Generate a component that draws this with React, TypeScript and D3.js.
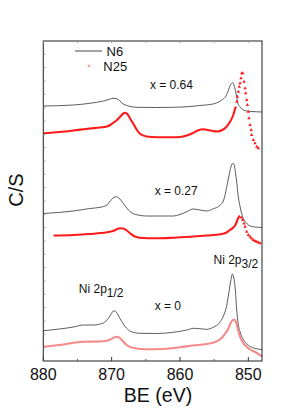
import { useEffect, useRef } from "react";
import * as d3 from "d3";

// binding energy (eV), intensity (arb. C/S) pairs
const n6_064: [number, number][] = [
  [880, 25.5], [875.6, 25.6], [873.2, 25.77], [871.2, 26.0], [870.2, 26.2], [869.8, 26.27],
  [869.3, 26.25], [868.3, 25.7], [867.3, 25.45], [866.3, 25.37], [863.4, 25.35], [861.0, 25.37],
  [858.5, 25.45], [857.1, 25.55], [855.2, 25.7], [854.1, 26.0], [853.2, 26.6], [853.0, 26.9],
  [852.7, 27.5], [852.4, 27.8], [852.3, 27.85], [852.1, 27.6], [851.7, 26.4], [851.5, 25.7],
  [851.2, 25.4], [850.7, 25.1], [850.2, 25.0], [849.5, 24.95], [848.0, 24.9],
];
const n25_064: [number, number][] = [
  [880, 22.77], [877.6, 22.9], [875.6, 23.05], [873.2, 23.25], [871.7, 23.35], [870.7, 23.45],
  [870.2, 23.6], [869.8, 23.8], [869.3, 24.05], [868.8, 24.4], [868.3, 24.75], [868.0, 24.83],
  [867.7, 24.7], [867.3, 24.25], [866.8, 23.7], [866.3, 23.1], [865.9, 22.75], [864.9, 22.45],
  [863.4, 22.37], [861.0, 22.37], [860.0, 22.4], [859.0, 22.55], [858.1, 22.8], [857.4, 23.05],
  [856.6, 23.17], [855.9, 23.1], [855.2, 23.0], [854.6, 22.95], [853.8, 23.1], [853.2, 23.43],
  [852.7, 23.9], [852.2, 24.6], [851.9, 25.3], [851.8, 25.43],
];
const n25_064Dots: [number, number][] = [
  [851.7, 25.93], [851.6, 26.43], [851.46, 26.93], [851.32, 27.43], [851.21, 27.77], [851.07, 28.27],
  [850.96, 28.77], [850.82, 28.77], [850.63, 27.93], [850.48, 27.27], [850.38, 26.77], [850.23, 26.1],
  [850.14, 25.6], [850.0, 24.93], [849.9, 24.27], [849.75, 23.6], [849.6, 23.1], [849.52, 22.6],
  [849.27, 22.1], [849.02, 21.77], [848.77, 21.43], [848.54, 21.27],
];
const n6_027: [number, number][] = [
  [880, 14.75], [875.6, 15.0], [873.2, 15.25], [871.7, 15.37], [870.7, 15.6], [870.2, 16.0],
  [869.8, 16.3], [869.3, 16.43], [868.8, 16.2], [868.3, 15.77], [867.8, 15.3], [867.3, 14.93],
  [866.3, 14.62], [864.9, 14.5], [861.0, 14.5], [860.0, 14.65], [859.0, 14.93], [858.1, 15.2],
  [857.1, 15.1], [856.1, 15.0], [855.2, 15.2], [854.1, 15.6], [853.6, 16.1], [853.2, 17.27],
  [852.9, 18.3], [852.6, 19.27], [852.3, 19.75], [852.1, 19.7], [851.9, 18.9], [851.7, 17.9],
  [851.5, 16.6], [851.2, 15.4], [850.7, 14.2], [850.2, 13.75], [849.75, 13.5], [849.0, 13.4],
  [848.0, 13.35],
];
const n25_027: [number, number][] = [
  [878.5, 12.55], [875.6, 12.6], [873.2, 12.7], [870.7, 12.87], [869.8, 13.0], [869.3, 13.15],
  [868.8, 13.27], [868.3, 13.25], [867.8, 13.05], [867.3, 12.77], [866.6, 12.45], [865.9, 12.33],
  [863.4, 12.27], [861.0, 12.33], [858.5, 12.43], [856.1, 12.55], [854.1, 12.67], [853.2, 12.85],
  [852.7, 13.1], [852.2, 13.35], [851.9, 13.6], [851.6, 14.1], [851.4, 14.4], [851.2, 14.5],
];
const n25_027Dots: [number, number][] = [
  [851.03, 14.35], [850.82, 14.1], [850.63, 13.75], [850.48, 13.43], [850.23, 12.93], [850.0, 12.6],
  [849.75, 12.43], [849.52, 12.25], [849.27, 12.1], [849.02, 12.0], [848.77, 11.93], [848.54, 11.85],
  [848.29, 11.77],
];
const n6_0: [number, number][] = [
  [880, 3.03], [877.6, 3.2], [875.6, 3.4], [874.1, 3.6], [872.7, 3.6], [871.2, 3.8], [870.7, 4.1],
  [870.2, 4.55], [869.9, 4.9], [869.65, 5.03], [869.4, 4.95], [869.1, 4.65], [868.8, 4.27],
  [868.3, 3.7], [867.8, 3.27], [867.2, 2.95], [865.85, 2.77], [863.4, 2.75], [861.0, 2.87],
  [859.0, 3.1], [858.05, 3.27], [857.1, 3.23], [856.1, 3.17], [855.2, 3.35], [854.1, 3.93],
  [853.65, 4.5], [853.2, 5.43], [852.9, 6.6], [852.6, 7.9], [852.34, 8.7], [852.2, 8.5],
  [851.9, 7.1], [851.7, 5.1], [851.5, 3.8], [851.2, 2.9], [850.7, 2.1], [850.2, 1.7],
  [849.75, 1.45], [849.0, 1.25], [848.0, 1.15],
];
const n25_0: [number, number][] = [
  [880, 1.43], [877.6, 1.6], [874.1, 1.93], [871.7, 1.95], [870.7, 2.03], [870.2, 2.15],
  [869.65, 2.35], [869.2, 2.43], [868.8, 2.3], [868.3, 1.95], [867.8, 1.6], [866.8, 1.3],
  [864.9, 1.17], [862.4, 1.2], [860.0, 1.37], [858.05, 1.55], [856.1, 1.7], [855.2, 1.83],
  [854.1, 2.17], [853.6, 2.55], [852.9, 3.27], [852.5, 3.9], [852.1, 4.15], [851.8, 3.9],
  [851.5, 3.1], [851.2, 2.4], [850.7, 1.77], [850.2, 1.4], [849.75, 1.15], [849.0, 0.9],
  [848.0, 0.45],
];

const xTicks = [880, 870, 860, 850];
const xMinor = [875, 865, 855];
const labels = [
  { text: "x = 0.64", be: 864.4, v: 27.2 },
  { text: "x = 0.27", be: 863.7, v: 16.6 },
  { text: "x = 0", be: 863.7, v: 5.1 },
];

export default function App() {
  const svgRef = useRef<SVGSVGElement>(null);
  const width = 291;
  const height = 411;

  useEffect(() => {
    const margin = { top: 41, right: 29, bottom: 50, left: 43.3 };
    const x = d3
      .scaleLinear()
      .domain([880, 848])
      .range([margin.left, width - margin.right]);
    const y = d3
      .scaleLinear()
      .domain([0, 32])
      .range([height - margin.bottom, margin.top]);

    const svg = d3.select(svgRef.current);
    svg.selectAll("*").remove();
    const font = "Liberation Sans, Arial, Helvetica, sans-serif";

    const line = d3
      .line<[number, number]>()
      .x((d) => x(d[0]))
      .y((d) => y(d[1]))
      .curve(d3.curveMonotoneX);

    const plot = svg.append("g");

    // thin grey N6 traces
    [n6_064, n6_027, n6_0].forEach((s) => {
      plot
        .append("path")
        .datum(s)
        .attr("fill", "none")
        .attr("stroke", "#4a4a4a")
        .attr("stroke-width", 0.9)
        .attr("d", line);
    });

    // red N25 traces (dense markers -> thick line)
    [
      { s: n25_064, c: "#ff1a1a" },
      { s: n25_027, c: "#ff1a1a" },
      { s: n25_0, c: "#f58a8a" },
    ].forEach(({ s, c }) => {
      plot
        .append("path")
        .datum(s)
        .attr("fill", "none")
        .attr("stroke", c)
        .attr("stroke-width", 2.1)
        .attr("d", line);
    });

    const tri = d3.symbol().type(d3.symbolTriangle).size(5);
    [n25_064Dots, n25_027Dots].forEach((s) => {
      plot
        .selectAll(null)
        .data(s)
        .join("path")
        .attr("d", tri)
        .attr("fill", "#ff1a1a")
        .attr("transform", (d) => `translate(${x(d[0])},${y(d[1])})`);
    });

    // frame
    const [x0, x1] = x.range();
    const [yb, yt] = y.range();
    svg
      .append("rect")
      .attr("x", x0)
      .attr("y", yt)
      .attr("width", x1 - x0)
      .attr("height", yb - yt)
      .attr("fill", "none")
      .attr("stroke", "#333")
      .attr("stroke-width", 1.1);

    // bottom ticks (inward)
    xTicks.forEach((t) => {
      svg
        .append("line")
        .attr("x1", x(t))
        .attr("x2", x(t))
        .attr("y1", yb)
        .attr("y2", yb - 4)
        .attr("stroke", "#333");
      svg
        .append("text")
        .attr("x", x(t))
        .attr("y", yb + 19)
        .attr("text-anchor", "middle")
        .attr("font-family", font)
        .attr("font-size", 16)
        .attr("fill", "#111")
        .text(t);
    });
    xMinor.forEach((t) => {
      svg
        .append("line")
        .attr("x1", x(t))
        .attr("x2", x(t))
        .attr("y1", yb)
        .attr("y2", yb - 2)
        .attr("stroke", "#555");
    });
    // faint top ticks
    [...xTicks, ...xMinor].forEach((t) => {
      svg
        .append("line")
        .attr("x1", x(t))
        .attr("x2", x(t))
        .attr("y1", yt)
        .attr("y2", yt + 2)
        .attr("stroke", "#999");
    });
    // faint left ticks
    d3.range(0, 32, 4 / 3).forEach((t) => {
      svg
        .append("line")
        .attr("x1", x0)
        .attr("x2", x0 + 2)
        .attr("y1", y(t))
        .attr("y2", y(t))
        .attr("stroke", "#888");
    });

    // axis titles
    svg
      .append("text")
      .attr("x", 158)
      .attr("y", 401.5)
      .attr("text-anchor", "middle")
      .attr("font-family", font)
      .attr("font-size", 19.5)
      .attr("fill", "#111")
      .text("BE (eV)");
    svg
      .append("text")
      .attr("transform", "translate(23,190) rotate(-90)")
      .attr("text-anchor", "middle")
      .attr("font-family", font)
      .attr("font-size", 20)
      .attr("fill", "#111")
      .text("C/S");

    // series labels
    labels.forEach((l) => {
      svg
        .append("text")
        .attr("x", x(l.be))
        .attr("y", y(l.v))
        .attr("font-family", font)
        .attr("font-size", 12)
        .attr("fill", "#111")
        .text(l.text);
    });

    const peak = (px: number, py: number, sub: string) => {
      const t = svg
        .append("text")
        .attr("x", px)
        .attr("y", py)
        .attr("font-family", font)
        .attr("font-size", 12)
        .attr("fill", "#111");
      t.append("tspan").text("Ni 2p");
      t.append("tspan").attr("dy", 3.5).text(sub);
    };
    peak(x(855.1), y(9.7), "3/2");
    peak(x(874.8), y(6.8), "1/2");

    // legend
    const lg = svg.append("g").attr("font-family", font).attr("font-size", 13).attr("fill", "#111");
    lg.append("line")
      .attr("x1", 75)
      .attr("x2", 102)
      .attr("y1", 51)
      .attr("y2", 51)
      .attr("stroke", "#333")
      .attr("stroke-width", 0.9);
    lg.append("text").attr("x", 106.5).attr("y", 56).text("N6");
    lg.append("path")
      .attr("d", d3.symbol().type(d3.symbolTriangle).size(6)())
      .attr("fill", "#f7a0a0")
      .attr("transform", "translate(89,66)");
    lg.append("text").attr("x", 103.3).attr("y", 71).text("N25");
  }, []);

  return (
    <div style={{ position: "absolute", left: 0, top: 0, background: "#fff" }}>
      <svg ref={svgRef} width={width} height={height}></svg>
    </div>
  );
}
